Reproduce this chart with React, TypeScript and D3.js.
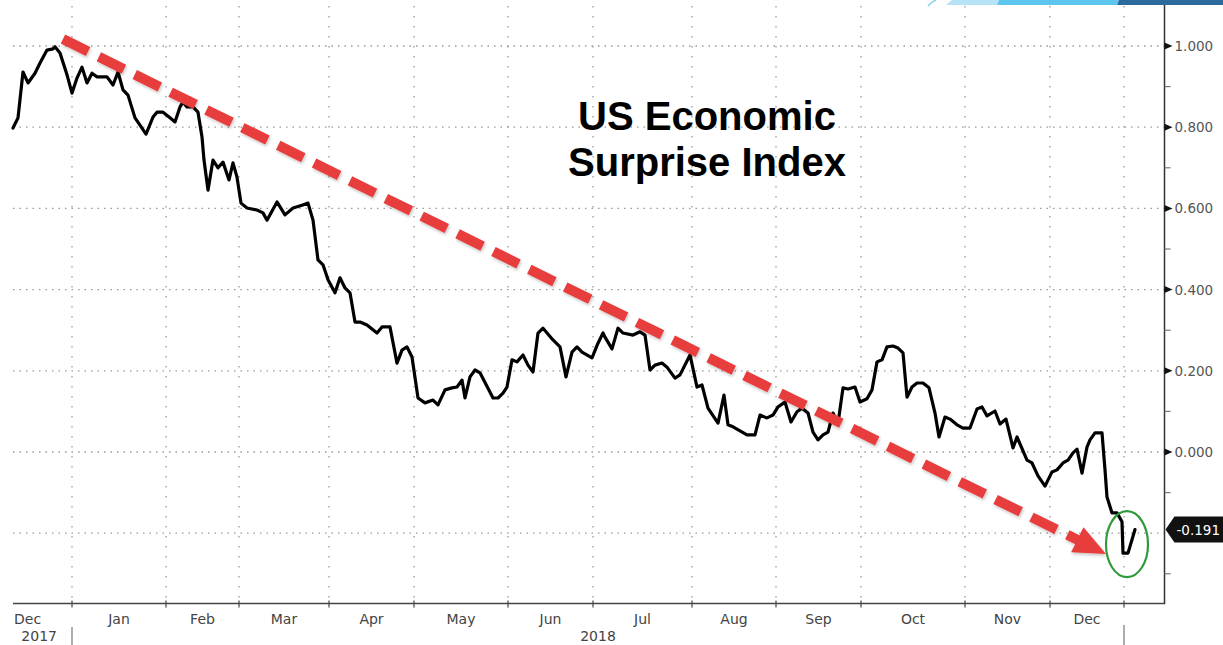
import React from "react";
import * as d3 from "d3";

const W = 1223;
const H = 645;

// x position on the chart's observation axis (business-session index) and index value
const sessions = [
  0, 1.25, 2.5, 3.75, 5.5, 6.75, 8.5, 10, 10.5, 11.75, 13.5, 14.75, 16, 17.25, 18.5, 19.75, 21, 23.5, 25, 26.25,
  27.5, 28.75, 30.5, 31.75, 33.25, 35, 36, 37.5, 39.25, 40.5, 41.75, 42.5, 43.5, 45, 46.25, 47.25, 47.75, 48.75,
  50, 51.25, 52.5, 54, 55, 56, 57, 58.5, 61, 62.5, 63.5, 66, 68, 70, 72.25, 73.75, 75, 76.25, 77.5, 78.75, 80.5,
  81.75, 83, 84.25, 85.5, 86.75, 88.5, 91, 92.25, 94.25, 96, 97.25, 98.5, 99.75, 101.25, 103, 105, 106.25, 108,
  109.75, 111, 112.25, 113, 114.25, 115.5, 116.75, 120, 121.25, 122.5, 123.5, 124.75, 126, 127.5, 128.75, 130,
  131.25, 132.5, 135, 136.75, 138.25, 139.75, 141, 142.25, 144.75, 146.25, 147.5, 148, 149.75, 151.25, 152.5, 155,
  156.75, 158, 159.25, 160.5, 162.25, 163.5, 165.5, 166.75, 169.25, 171, 172.25, 173.75, 176.25, 177.75, 178.75,
  180, 183.5, 185.5, 186.75, 188.5, 190, 191.25, 193, 194.5, 196, 197.25, 198.75, 200, 201.25, 202.5, 203.75, 205,
  206.25, 207.5, 208.75, 210.5, 211.75, 213.5, 214.75, 216, 217.25, 218.5, 220, 221.25, 222.5, 223.5, 224.75, 226,
  227.5, 229, 230.5, 231.5, 233, 234.25, 236, 237.5, 239.25, 241, 242.25, 243.5, 245.5, 246.75, 248.25, 250, 251,
  253.5, 254.75, 256.25, 258, 259.75, 261, 262.5, 263.75, 265, 266, 267.25, 268.5, 269.25, 270.5, 272.25, 273,
  273.5, 274.75, 276, 277.25, 277.5, 278.75, 280.5,
];
const values = [
  0.798, 0.823, 0.936, 0.909, 0.933, 0.958, 0.99, 0.993, 0.998, 0.983, 0.929, 0.884, 0.921, 0.948, 0.909, 0.933,
  0.924, 0.924, 0.904, 0.936, 0.892, 0.879, 0.823, 0.805, 0.783, 0.825, 0.837, 0.837, 0.823, 0.813, 0.85, 0.862,
  0.85, 0.85, 0.837, 0.776, 0.719, 0.645, 0.719, 0.7, 0.714, 0.67, 0.712, 0.677, 0.613, 0.601, 0.596, 0.589, 0.571,
  0.616, 0.584, 0.601, 0.608, 0.613, 0.571, 0.473, 0.461, 0.424, 0.392, 0.429, 0.404, 0.392, 0.32, 0.32, 0.313,
  0.293, 0.308, 0.308, 0.219, 0.251, 0.259, 0.234, 0.133, 0.121, 0.128, 0.116, 0.153, 0.158, 0.16, 0.177, 0.133,
  0.185, 0.202, 0.195, 0.133, 0.133, 0.145, 0.16, 0.227, 0.222, 0.239, 0.214, 0.197, 0.293, 0.305, 0.276, 0.259,
  0.185, 0.246, 0.259, 0.246, 0.232, 0.268, 0.293, 0.283, 0.254, 0.305, 0.293, 0.288, 0.296, 0.288, 0.202, 0.214,
  0.219, 0.209, 0.182, 0.19, 0.239, 0.16, 0.165, 0.108, 0.071, 0.14, 0.067, 0.062, 0.042, 0.042, 0.091, 0.084,
  0.091, 0.111, 0.123, 0.074, 0.099, 0.108, 0.096, 0.049, 0.03, 0.042, 0.049, 0.096, 0.071, 0.158, 0.155, 0.16,
  0.123, 0.131, 0.153, 0.222, 0.227, 0.259, 0.261, 0.256, 0.244, 0.135, 0.16, 0.17, 0.17, 0.158, 0.096, 0.037,
  0.086, 0.081, 0.067, 0.059, 0.059, 0.106, 0.111, 0.089, 0.101, 0.069, 0.081, 0.01, 0.037, -0.02, -0.027, -0.059,
  -0.084, -0.049, -0.044, -0.027, -0.02, -0.002, 0.007, -0.052, 0.012, 0.03, 0.047, 0.047, -0.044, -0.111, -0.15,
  -0.15, -0.172, -0.249, -0.249, -0.191,
];

// month boundaries on the session axis (Jan 2018 ... Jan 2019)
const monthStarts = [14.75, 38.25, 56.5, 79, 100.25, 123.75, 145, 169.75, 190.75, 212, 238, 259.25, 277.75];
const monthLabels = ["Jan", "Feb", "Mar", "Apr", "May", "Jun", "Jul", "Aug", "Sep", "Oct", "Nov", "Dec"];
const firstMonthLabel = "Dec";
const yearLabels = ["2017", "2018"];

const yMajor = [1.0, 0.8, 0.6, 0.4, 0.2, 0.0];
const yGrid = [1.0, 0.8, 0.6, 0.4, 0.2, 0.0, -0.2];
const yMinor = [0.9, 0.7, 0.5, 0.3, 0.1, -0.1, -0.3];

const titleLines = ["US Economic", "Surprise Index"];

// annotation: trend arrow and highlight circle (in data units)
const arrowFrom = [12.5, 1.017];
const arrowTo = [273.25, -0.251];
const highlightAt = [278.5, -0.227];

export default function App() {
  const x = d3.scaleLinear().domain([0, 280.5]).range([13, 1135]);
  const y = d3.scaleLinear().domain([0, 1]).range([452, 46]);
  const plotLeft = 13;
  const plotRight = 1164.5;
  const plotTop = 0;
  const plotBottom = 603.5;
  const fmt = (v: number) => d3.format(".3f")(v).replace("\u2212", "-");

  const pts: [number, number][] = sessions.map((s, i) => [s, values[i]]);
  const line = d3
    .line<[number, number]>()
    .x((d) => x(d[0]))
    .y((d) => y(d[1]));

  // arrow geometry
  const ax0 = x(arrowFrom[0]);
  const ay0 = y(arrowFrom[1]);
  const ax1 = x(arrowTo[0]);
  const ay1 = y(arrowTo[1]);
  const len = Math.hypot(ax1 - ax0, ay1 - ay0);
  const ux = (ax1 - ax0) / len;
  const uy = (ay1 - ay0) / len;
  const headLen = 32;
  const headHalf = 14;
  const bx = ax1 - ux * headLen;
  const by = ay1 - uy * headLen;
  const head = [
    [ax1, ay1],
    [bx - uy * headHalf, by + ux * headHalf],
    [bx + uy * headHalf, by - ux * headHalf],
  ]
    .map((p) => p.join(","))
    .join(" ");

  const lastV = values[values.length - 1];
  const lastY = y(lastV);

  const axisFont = "'DejaVu Sans', Verdana, sans-serif";

  return (
    <svg
      width={W}
      height={H}
      viewBox={`0 0 ${W} ${H}`}
      style={{ position: "absolute", left: 0, top: 0, background: "#fff" }}
    >
      <defs>
        <filter id="shadow" x="-10%" y="-10%" width="120%" height="120%">
          <feDropShadow dx="1" dy="2" stdDeviation="1.6" floodColor="#000" floodOpacity="0.22" />
        </filter>
      </defs>
      <rect x={0} y={0} width={W} height={H} fill="#fff" />

      {/* top-right decorative banner */}
      <g>
        <path d="M928,6 Q931,2 936,0" fill="none" stroke="#8fd3f0" strokeWidth={1.5} />
        <polygon points="946,5 952,0 999,0 997,5" fill="#b7e3f6" />
        <polygon points="997,5 999,0 1119,0 1117,5" fill="#5cc6ee" />
        <polygon points="1117,5 1119,0 1223,0 1223,5" fill="#2a6a9c" />
      </g>

      {/* horizontal gridlines */}
      {yGrid.map((v) => (
        <line
          key={"h" + v}
          x1={plotLeft}
          x2={plotRight}
          y1={y(v)}
          y2={y(v)}
          stroke="#999"
          strokeWidth={1.3}
          strokeDasharray="1.5 5"
        />
      ))}
      {/* vertical gridlines */}
      {monthStarts.map((s) => (
        <line
          key={"v" + s}
          x1={x(s)}
          x2={x(s)}
          y1={plotTop + 6}
          y2={plotBottom}
          stroke="#999"
          strokeWidth={1.3}
          strokeDasharray="1.5 8.5"
        />
      ))}

      {/* title */}
      {titleLines.map((t, i) => (
        <text
          key={t}
          x={707}
          y={129.5 + i * 46}
          textAnchor="middle"
          fontFamily="'Liberation Sans', Arial, sans-serif"
          fontWeight="bold"
          fontSize={40}
          fill="#000"
        >
          {t}
        </text>
      ))}

      {/* series line */}
      <path d={line(pts) || ""} fill="none" stroke="#000" strokeWidth={3.2} strokeLinejoin="round" strokeLinecap="round" />

      {/* trend arrow */}
      <g filter="url(#shadow)">
        <line
          x1={ax0}
          y1={ay0}
          x2={bx + ux * 2}
          y2={by + uy * 2}
          stroke="#e83c3c"
          strokeWidth={10}
          strokeDasharray="28 12"
        />
        <polygon points={head} fill="#e83c3c" />
      </g>

      {/* highlight ellipse */}
      <ellipse
        cx={x(highlightAt[0])}
        cy={y(highlightAt[1])}
        rx={21}
        ry={33}
        fill="none"
        stroke="#2f9a3a"
        strokeWidth={2.2}
      />

      {/* axes */}
      <line x1={plotRight} x2={plotRight} y1={5} y2={plotBottom} stroke="#333" strokeWidth={1.5} />
      <line x1={plotLeft} x2={plotRight + 0.75} y1={plotBottom} y2={plotBottom} stroke="#444" strokeWidth={1.5} />

      {/* y minor ticks */}
      {yMinor.map((v) => (
        <line key={"m" + v} x1={plotRight} x2={plotRight + 6} y1={y(v)} y2={y(v)} stroke="#777" strokeWidth={1.2} />
      ))}
      {/* y major ticks + labels */}
      {yMajor.map((v) => (
        <g key={"t" + v}>
          <polygon
            points={`${plotRight},${y(v) - 3.5} ${plotRight + 8},${y(v)} ${plotRight},${y(v) + 3.5}`}
            fill="#111"
          />
          <text x={plotRight + 10} y={y(v) + 5} fontFamily={axisFont} fontSize={13.5} fill="#555">
            {fmt(v)}
          </text>
        </g>
      ))}

      {/* last value tag */}
      <g>
        <polygon
          points={`${plotRight + 1},${lastY} ${plotRight + 10},${lastY - 13} ${W},${lastY - 13} ${W},${lastY + 13} ${plotRight + 10},${lastY + 13}`}
          fill="#111"
        />
        <text x={plotRight + 12} y={lastY + 5} fontFamily={axisFont} fontSize={13.5} fill="#fff">
          {fmt(lastV)}
        </text>
      </g>

      {/* x ticks */}
      {monthStarts.map((s) => (
        <line key={"xt" + s} x1={x(s)} x2={x(s)} y1={plotBottom - 3} y2={plotBottom + 4} stroke="#444" strokeWidth={1.2} />
      ))}
      {/* month labels */}
      <text x={x(0) + 1} y={623.5} fontFamily={axisFont} fontSize={14} fill="#444">
        {firstMonthLabel}
      </text>
      {monthLabels.map((m, i) => (
        <text
          key={m + i}
          x={(x(monthStarts[i]) + x(monthStarts[i + 1])) / 2}
          y={623.5}
          textAnchor="middle"
          fontFamily={axisFont}
          fontSize={14}
          fill="#444"
        >
          {m}
        </text>
      ))}
      {/* year labels and separators */}
      <text x={x(monthStarts[0]) - 15} y={641} textAnchor="end" fontFamily={axisFont} fontSize={14} fill="#444">
        {yearLabels[0]}
      </text>
      <text
        x={(x(monthStarts[0]) + x(monthStarts[monthStarts.length - 1])) / 2}
        y={641}
        textAnchor="middle"
        fontFamily={axisFont}
        fontSize={14}
        fill="#444"
      >
        {yearLabels[1]}
      </text>
      <line x1={x(monthStarts[0])} x2={x(monthStarts[0])} y1={627} y2={H} stroke="#777" strokeWidth={1.2} />
      <line
        x1={x(monthStarts[monthStarts.length - 1])}
        x2={x(monthStarts[monthStarts.length - 1])}
        y1={625}
        y2={H}
        stroke="#777"
        strokeWidth={1.2}
      />
    </svg>
  );
}
